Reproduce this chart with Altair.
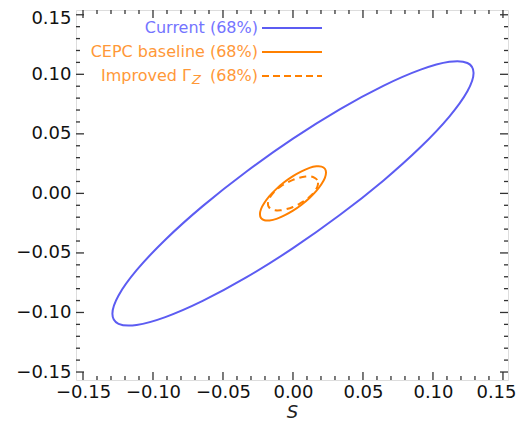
import altair as alt
import pandas as pd

# ---- data ----
current_x = [0.129, 0.1246, 0.1117, 0.0912, 0.0645, 0.0334, 0.0, -0.0334, -0.0645, -0.0912, -0.1117, -0.1246,
             -0.129, -0.1246, -0.1117, -0.0912, -0.0645, -0.0334, 0.0, 0.0334, 0.0645, 0.0912, 0.1117, 0.1246]
current_y = [0.101, 0.1095, 0.1105, 0.1039, 0.0903, 0.0706, 0.046, 0.0182, -0.0107, -0.0389, -0.0645, -0.0857,
             -0.101, -0.1095, -0.1105, -0.1039, -0.0903, -0.0706, -0.046, -0.0182, 0.0107, 0.0389, 0.0645, 0.0857]

cepc_x = [0.0236, 0.0228, 0.0204, 0.0167, 0.0118, 0.0061, 0.0, -0.0061, -0.0118, -0.0167, -0.0204, -0.0228,
          -0.0236, -0.0228, -0.0204, -0.0167, -0.0118, -0.0061, 0.0, 0.0061, 0.0118, 0.0167, 0.0204, 0.0228]
cepc_y = [0.0175, 0.0207, 0.0225, 0.0227, 0.0214, 0.0185, 0.0145, 0.0095, 0.0038, -0.0021, -0.0079, -0.0131,
          -0.0175, -0.0207, -0.0225, -0.0227, -0.0214, -0.0185, -0.0145, -0.0095, -0.0038, 0.0021, 0.0079, 0.0131]

impr_x = [0.0179, 0.0173, 0.0155, 0.0127, 0.0090, 0.0046, 0.0, -0.0046, -0.0090, -0.0127, -0.0155, -0.0173,
          -0.0179, -0.0173, -0.0155, -0.0127, -0.0090, -0.0046, 0.0, 0.0046, 0.0090, 0.0127, 0.0155, 0.0173]
impr_y = [0.0086, 0.0113, 0.0131, 0.0142, 0.0142, 0.0132, 0.0114, 0.0088, 0.0056, 0.0020, -0.0017, -0.0053,
          -0.0086, -0.0113, -0.0131, -0.0142, -0.0142, -0.0132, -0.0114, -0.0088, -0.0056, -0.0020, 0.0017, 0.0053]

major_ticks = [-0.15, -0.10, -0.05, 0.0, 0.05, 0.10, 0.15]
minor_ticks = [-0.14, -0.13, -0.12, -0.11, -0.09, -0.08, -0.07, -0.06, -0.04, -0.03, -0.02, -0.01,
               0.01, 0.02, 0.03, 0.04, 0.06, 0.07, 0.08, 0.09, 0.11, 0.12, 0.13, 0.14]

legend_labels = ["Current (68%)", "CEPC baseline (68%)", "Improved Γ", "Z", "(68%)"]

# ---- style ----
W, H = 432, 370
BLUE = "#5c5cf2"
BLUE_T = "#7474ff"
ORANGE = "#ff8000"
ORANGE_T = "#ff9838"
FRAME = "#333333"
FONT = "DejaVu Sans"

xdom = [-0.155, 0.1536]
ydom = [-0.1567, 0.1540]
xs = alt.Scale(domain=xdom, nice=False, zero=False)
ys = alt.Scale(domain=ydom, nice=False, zero=False)


def ell(xv, yv):
    return pd.DataFrame({"x": xv, "y": yv, "o": list(range(len(xv)))})


def curve(df, color, dash=None):
    kw = dict(color=color, strokeWidth=2, interpolate="cardinal-closed", clip=True)
    if dash:
        kw["strokeDash"] = dash
    return alt.Chart(df).mark_line(**kw).encode(
        x=alt.X("x:Q", scale=xs, axis=alt.Axis(
            values=major_ticks, format=".2f", ticks=False, domain=False, grid=False,
            labelFont=FONT, labelFontSize=18, labelColor="#111", labelPadding=3,
            labelOffset={"condition": {"test": "datum.value > 0.14", "value": -7}, "value": 0},
            title="S", titleFont=FONT, titleFontSize=18, titleFontStyle="italic",
            titleFontWeight="normal", titleColor="#222", titlePadding=2)),
        y=alt.Y("y:Q", scale=ys, axis=alt.Axis(
            values=major_ticks, format=".2f", ticks=False, domain=False, grid=False,
            labelFont=FONT, labelFontSize=18, labelColor="#111", labelPadding=5,
            labelOffset={"condition": {"test": "datum.value > 0.14", "value": 4}, "value": 0},
            title=None)),
        order="o:Q",
    )


c_cur = curve(ell(current_x, current_y), BLUE)
c_cepc = curve(ell(cepc_x, cepc_y), ORANGE)
c_impr = curve(ell(impr_x, impr_y), ORANGE, dash=[7, 5])

maj = pd.DataFrame({"v": major_ticks})
mnr = pd.DataFrame({"v": minor_ticks})


def xticks(df, length):
    bot = alt.Chart(df).mark_rule(color=FRAME, strokeWidth=1.3).encode(
        x=alt.X("v:Q", scale=xs), y=alt.value(H), y2=alt.value(H - length))
    top = alt.Chart(df).mark_rule(color=FRAME, strokeWidth=1.3).encode(
        x=alt.X("v:Q", scale=xs), y=alt.value(0), y2=alt.value(length))
    return bot + top


def yticks(df, length):
    left = alt.Chart(df).mark_rule(color=FRAME, strokeWidth=1.3).encode(
        y=alt.Y("v:Q", scale=ys), x=alt.value(0), x2=alt.value(length))
    right = alt.Chart(df).mark_rule(color=FRAME, strokeWidth=1.3).encode(
        y=alt.Y("v:Q", scale=ys), x=alt.value(W), x2=alt.value(W - length))
    return left + right


ticks = xticks(maj, 8) + xticks(mnr, 4) + yticks(maj, 8) + yticks(mnr, 4)

# ---- legend ----
LX_TEXT = 182
L1, L2 = 186, 246
rows_y = [18, 42, 66]

leg_lines = alt.layer(
    alt.Chart(pd.DataFrame({"a": [0]})).mark_rule(color=BLUE, strokeWidth=2.2).encode(
        x=alt.value(L1), x2=alt.value(L2), y=alt.value(rows_y[0])),
    alt.Chart(pd.DataFrame({"a": [0]})).mark_rule(color=ORANGE, strokeWidth=2.2).encode(
        x=alt.value(L1), x2=alt.value(L2), y=alt.value(rows_y[1])),
    alt.Chart(pd.DataFrame({"a": [0]})).mark_rule(color=ORANGE, strokeWidth=2.2, strokeDash=[7, 4]).encode(
        x=alt.value(L1), x2=alt.value(L2), y=alt.value(rows_y[2])),
)


def txt(label, x, y, color, align="right", size=16, style="normal", dy=0):
    return alt.Chart(pd.DataFrame({"t": [label]})).mark_text(
        align=align, baseline="middle", font=FONT, fontSize=size, fontStyle=style, color=color, dy=dy
    ).encode(text="t:N", x=alt.value(x), y=alt.value(y))


leg_text = alt.layer(
    txt(legend_labels[0], LX_TEXT, rows_y[0], BLUE_T),
    txt(legend_labels[1], LX_TEXT, rows_y[1], ORANGE_T),
    txt(legend_labels[2], 115, rows_y[2], ORANGE_T),
    txt(legend_labels[3], 116, rows_y[2], ORANGE_T, align="left", size=13, style="italic", dy=4),
    txt(legend_labels[4], LX_TEXT, rows_y[2], ORANGE_T),
)

chart = alt.layer(c_cur, c_cepc, c_impr, ticks, leg_lines, leg_text).properties(
    width=W, height=H,
    autosize=alt.AutoSizeParams(type="none"),
    padding={"left": 68, "top": 2, "right": 8, "bottom": 42},
).configure_view(stroke=FRAME, strokeWidth=1.5).configure(background="white")

chart.save("out.html", embed_options={"renderer": "svg", "actions": False})
